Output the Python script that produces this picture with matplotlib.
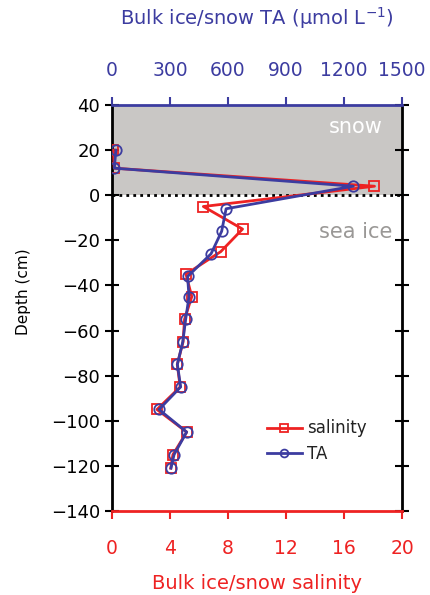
import matplotlib
matplotlib.use("Agg")
import matplotlib.pyplot as plt

depth_sal = [20, 12, 4, -5, -15, -25, -35, -45, -55, -65, -75, -85, -95, -105, -115, -121]
salinity = [0.1, 0.15, 18.1, 6.3, 9.0, 7.5, 5.1, 5.5, 5.0, 4.9, 4.5, 4.7, 3.1, 5.15, 4.2, 4.05]
depth_ta = [20, 12, 4, -6, -16, -26, -36, -45, -55, -65, -75, -85, -95, -105, -115, -121]
ta = [20, 12, 1248, 590, 567, 512, 391, 398, 381, 366, 338, 355, 243, 386, 321, 305]

sal_ticks = [0, 4, 8, 12, 16, 20]
ta_ticks = [0, 300, 600, 900, 1200, 1500]
depth_ticks = list(range(-140, 41, 20))

RED = '#ee2222'
BLUE = '#3c3ca0'
FS = 13

fig = plt.figure(figsize=(4.3, 5.95), dpi=100)
ax = fig.add_axes([0.2605, 0.1412, 0.6745, 0.6823])
ax.axhspan(0, 40, color='#c9c7c5', zorder=0, lw=0)
ax.axhline(0, color='black', ls=(0, (1, 1.5)), lw=2, zorder=1)

ax.plot(salinity, depth_sal, color=RED, lw=2, marker='s', ms=7.5,
        mfc='none', mec=RED, mew=1.3, label='salinity', zorder=3)
ax.set_xlim(0, 20)
ax.set_ylim(-140, 40)
ax.set_xticks(sal_ticks)
ax.set_yticks(depth_ticks)
ax.tick_params(axis='x', colors=RED, labelsize=13.5, direction='out', length=6, width=1.5, pad=14)
ax.tick_params(axis='y', labelsize=FS, direction='inout', length=10, width=1.5,
               right=True, labelright=False)
ax.set_xlabel('Bulk ice/snow salinity', color=RED, fontsize=14, labelpad=12)
ax.set_ylabel('Depth (cm)', fontsize=11, labelpad=14)
ax.yaxis.set_label_coords(-0.28, 0.54)
for s in ['left', 'right']:
    ax.spines[s].set_linewidth(2)
ax.spines['bottom'].set_color(RED)
ax.spines['bottom'].set_linewidth(2)
ax.spines['top'].set_visible(False)

ax2 = ax.twiny()
ax2.plot(ta, depth_ta, color=BLUE, lw=2, marker='o', ms=7.5,
         mfc='none', mec=BLUE, mew=1.3, label='TA', zorder=4)
ax2.set_xlim(0, 1500)
ax2.set_xticks(ta_ticks)
ax2.tick_params(axis='x', colors=BLUE, labelsize=13.5, direction='out', length=6, width=1.5, pad=12)
ax2.set_xlabel('Bulk ice/snow TA (µmol L$^{-1}$)', color=BLUE, fontsize=14, labelpad=26)
ax2.spines['top'].set_color(BLUE)
ax2.spines['top'].set_linewidth(2)
for s in ['left', 'right', 'bottom']:
    ax2.spines[s].set_visible(False)

ax.text(0.84, 0.945, 'snow', transform=ax.transAxes, color='white', fontsize=15,
        ha='center', va='center')
ax.text(0.84, 0.687, 'sea ice', transform=ax.transAxes, color='#9a9896', fontsize=15,
        ha='center', va='center')

h1, l1 = ax.get_legend_handles_labels()
h2, l2 = ax2.get_legend_handles_labels()
leg = ax2.legend(h1 + h2, l1 + l2, loc='center left', bbox_to_anchor=(0.505, 0.172),
                 frameon=False, fontsize=12, handlelength=2.1, handletextpad=0.3,
                 labelspacing=0.45, borderpad=0, markerscale=0.75)
for t in leg.get_texts():
    t.set_color('#222222')

fig.savefig('out.png', dpi=100)
